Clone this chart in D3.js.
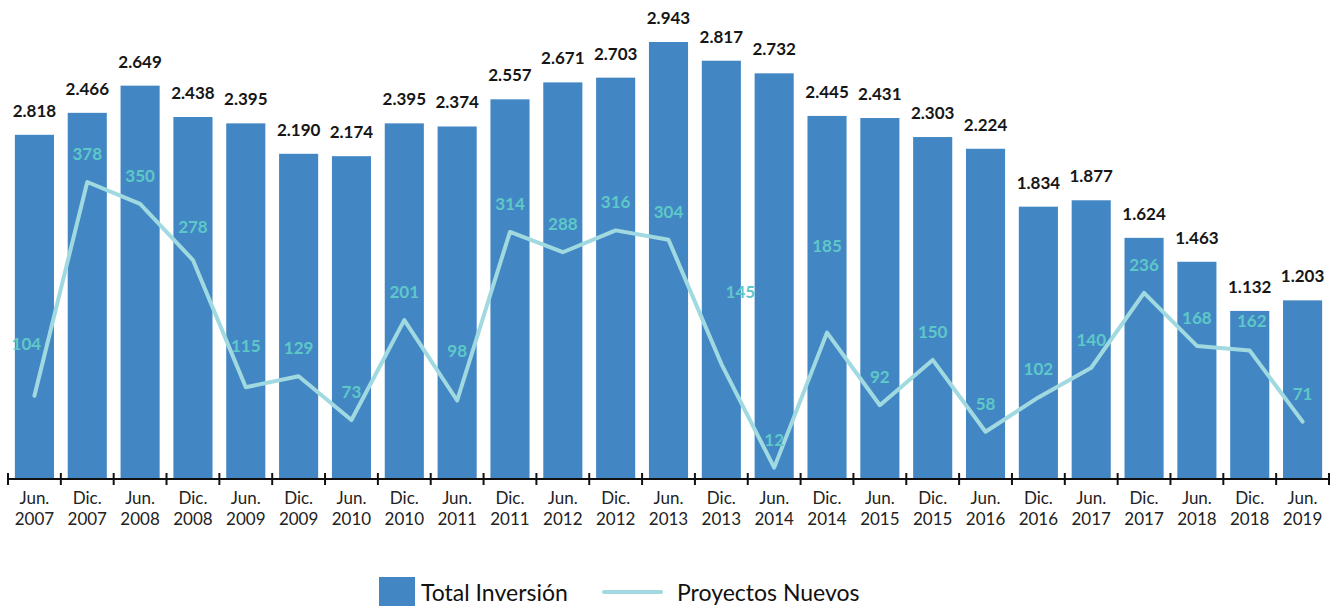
<!DOCTYPE html>
<html>
<head>
<meta charset="utf-8">
<script src="https://cdn.jsdelivr.net/npm/d3@7"></script>
<style>
  body { margin: 0; background: #fff; }
  svg { display: block; font-family: Lato, "Open Sans", sans-serif; }
</style>
</head>
<body>
<div id="chart"></div>
<script>
// Data
const periods = ["Jun.", "Dic.", "Jun.", "Dic.", "Jun.", "Dic.", "Jun.", "Dic.", "Jun.", "Dic.", "Jun.", "Dic.", "Jun.",
                 "Dic.", "Jun.", "Dic.", "Jun.", "Dic.", "Jun.", "Dic.", "Jun.", "Dic.", "Jun.", "Dic.", "Jun."];
const years = ["2007", "2007", "2008", "2008", "2009", "2009", "2010", "2010", "2011", "2011", "2012", "2012", "2013",
               "2013", "2014", "2014", "2015", "2015", "2016", "2016", "2017", "2017", "2018", "2018", "2019"];
// bar heights as drawn (first bar is drawn shorter than its label says)
const inversion = [2318, 2466, 2649, 2438, 2395, 2190, 2174, 2395, 2374, 2557, 2671, 2703, 2943,
                   2817, 2732, 2445, 2431, 2303, 2224, 1834, 1877, 1624, 1463, 1132, 1203];
const inversionLabels = ["2.818", "2.466", "2.649", "2.438", "2.395", "2.190", "2.174", "2.395", "2.374", "2.557",
                         "2.671", "2.703", "2.943", "2.817", "2.732", "2.445", "2.431", "2.303", "2.224", "1.834",
                         "1.877", "1.624", "1.463", "1.132", "1.203"];
const proyectos = [104, 378, 350, 278, 115, 129, 73, 201, 98, 314, 288, 316, 304,
                   145, 12, 185, 92, 150, 58, 102, 140, 236, 168, 162, 71];

const seriesNames = ["Total Inversión", "Proyectos Nuevos"];

const width = 1337, height = 606;
const baseY = 479;
const barColor = "#4287c4";
const lineColor = "#a0dae0";
const lineLabelColor = "#5ec8c8";

const svg = d3.select("#chart").append("svg")
    .attr("width", width)
    .attr("height", height);

const idx = d3.range(inversion.length);

const x = d3.scaleBand()
    .domain(idx)
    .range([8, 1329])
    .paddingInner(0.26)
    .paddingOuter(0.13);

const yBar = d3.scaleLinear().domain([0, 2943]).range([baseY, 42]);
const yLine = d3.scaleLinear().domain([0, 378]).range([477, 182]);

// bars
svg.append("g").selectAll("rect")
    .data(idx)
    .join("rect")
    .attr("x", i => x(i))
    .attr("y", i => yBar(inversion[i]))
    .attr("width", x.bandwidth())
    .attr("height", i => baseY - yBar(inversion[i]))
    .attr("fill", barColor);

// bar labels
svg.append("g").selectAll("text")
    .data(idx)
    .join("text")
    .attr("x", i => x(i) + x.bandwidth() / 2)
    .attr("y", i => yBar(inversion[i]) - 18)
    .attr("text-anchor", "middle")
    .attr("font-size", "17px")
    .attr("font-weight", "bold")
    .attr("fill", "#161616")
    .text(i => inversionLabels[i]);

// line
const cx = i => x(i) + x.bandwidth() / 2;
svg.append("path")
    .datum(idx)
    .attr("fill", "none")
    .attr("stroke", lineColor)
    .attr("stroke-width", 4)
    .attr("stroke-linejoin", "round")
    .attr("stroke-linecap", "round")
    .attr("d", d3.line().x(cx).y(i => yLine(proyectos[i])));

// line labels, a few were hand-placed in the original
const labelNudge = { 0: [-8, 52], 3: [0, 33], 4: [0, 41], 8: [0, 49], 13: [19, 72], 15: [0, 87], 23: [2, 30] };
svg.append("g").selectAll("text")
    .data(idx)
    .join("text")
    .attr("x", i => cx(i) + (labelNudge[i] ? labelNudge[i][0] : 0))
    .attr("y", i => yLine(proyectos[i]) - (labelNudge[i] ? labelNudge[i][1] : 28))
    .attr("dy", "0.35em")
    .attr("text-anchor", "middle")
    .attr("font-size", "17px")
    .attr("font-weight", "bold")
    .attr("fill", lineLabelColor)
    .text(i => proyectos[i]);

// x axis
const step = x.step();
const x0 = x(0) - step * x.paddingInner() / 2;
svg.append("line")
    .attr("x1", x0).attr("x2", x0 + step * idx.length)
    .attr("y1", baseY).attr("y2", baseY)
    .attr("stroke", "#111").attr("stroke-width", 2);

svg.append("g").selectAll("line")
    .data(d3.range(idx.length + 1))
    .join("line")
    .attr("x1", k => x0 + k * step).attr("x2", k => x0 + k * step)
    .attr("y1", baseY - 6).attr("y2", baseY + 6)
    .attr("stroke", "#111").attr("stroke-width", 2);

const tickLabels = svg.append("g").selectAll("text")
    .data(idx)
    .join("text")
    .attr("text-anchor", "middle")
    .attr("font-size", "17px")
    .attr("fill", "#222");
tickLabels.append("tspan")
    .attr("x", cx).attr("y", 504)
    .text(i => periods[i]);
tickLabels.append("tspan")
    .attr("x", cx).attr("y", 525)
    .text(i => years[i]);

// legend
const legend = svg.append("g");
legend.append("rect")
    .attr("x", 379).attr("y", 577)
    .attr("width", 36).attr("height", 29)
    .attr("fill", barColor);
legend.append("text")
    .attr("x", 421).attr("y", 601)
    .attr("font-size", "23px")
    .attr("fill", "#111")
    .text(seriesNames[0]);
legend.append("line")
    .attr("x1", 604).attr("x2", 661)
    .attr("y1", 592).attr("y2", 592)
    .attr("stroke", lineColor)
    .attr("stroke-width", 4)
    .attr("stroke-linecap", "round");
legend.append("text")
    .attr("x", 677).attr("y", 601)
    .attr("font-size", "23px")
    .attr("fill", "#111")
    .text(seriesNames[1]);
</script>
</body>
</html>
